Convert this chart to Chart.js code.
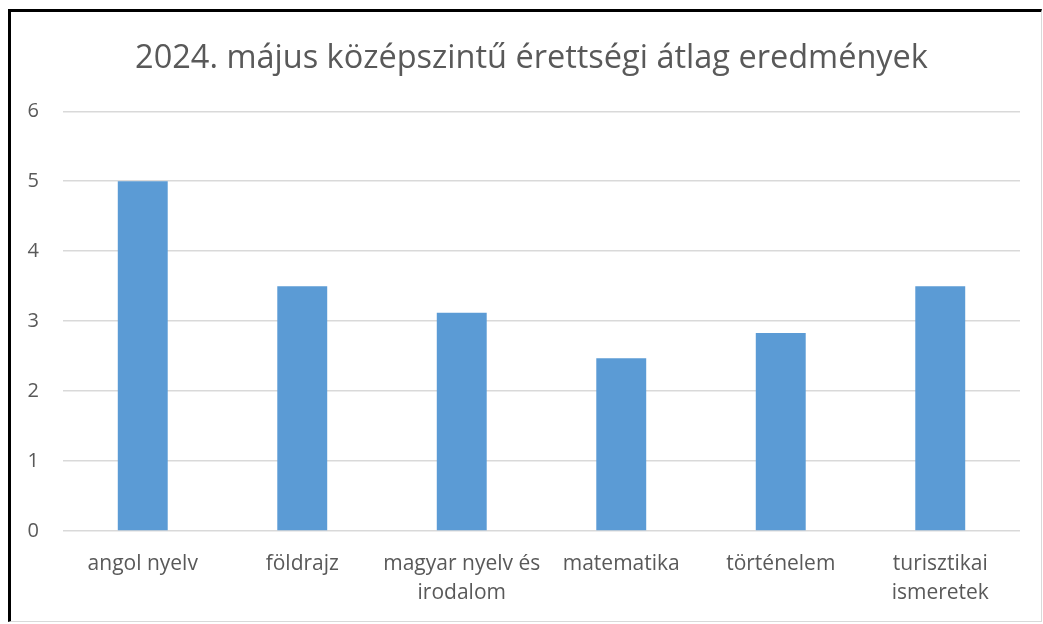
<!DOCTYPE html>
<html>
<head>
<meta charset="utf-8">
<script src="https://cdn.jsdelivr.net/npm/chart.js@4"></script>
<style>
  html, body { margin: 0; padding: 0; background: #fff; }
  #keret {
    position: absolute; left: 8px; top: 9px;
    width: 1030px; height: 609px;
    border-left: 3px solid #000; border-top: 3px solid #000;
    border-right: 1px solid #d9d9d9; border-bottom: 1px solid #d9d9d9;
    background: #fff;
  }
</style>
</head>
<body>
<div id="keret"><canvas id="grafikon" width="1030" height="609"></canvas></div>
<script>
const cimek = [
    'angol nyelv',
    'földrajz',
    ['magyar nyelv és', 'irodalom'],
    'matematika',
    'történelem',
    ['turisztikai', 'ismeretek']
];
const atlagok = [5.0, 3.5, 3.12, 2.47, 2.83, 3.5];
const yTickek = [0, 1, 2, 3, 4, 5, 6];

const betu = "'Open Sans', sans-serif";
const szurke = '#595959';

const ctx = document.getElementById('grafikon').getContext('2d');
new Chart(ctx, {
    type: 'bar',
    data: {
        labels: cimek,
        datasets: [{
            data: atlagok,
            backgroundColor: '#5b9bd5',
            borderWidth: 0,
            categoryPercentage: 1,
            barPercentage: 0.313
        }]
    },
    options: {
        responsive: false,
        animation: false,
        layout: { padding: { left: 11, right: 0, top: 0, bottom: 0 } },
        plugins: {
            legend: { display: false },
            tooltip: { enabled: false },
            title: {
                display: true,
                text: '2024. május középszintű érettségi átlag eredmények',
                color: szurke,
                font: { family: betu, size: 32.5, weight: 'normal', lineHeight: 1.3 },
                padding: { top: 26, bottom: 31 }
            }
        },
        scales: {
            x: {
                grid: { display: false, drawTicks: false },
                border: { display: false },
                ticks: {
                    color: szurke,
                    padding: 18,
                    maxRotation: 0,
                    autoSkip: false,
                    font: { family: betu, size: 21, lineHeight: 1.4 }
                },
                afterFit: s => { s.height = 90; }
            },
            y: {
                min: 0,
                max: 6,
                afterBuildTicks: s => { s.ticks = yTickek.map(v => ({ value: v })); },
                grid: { color: '#d9d9d9', lineWidth: 1.5, drawTicks: false },
                border: { display: false },
                ticks: {
                    color: szurke,
                    padding: 24,
                    font: { family: betu, size: 20 }
                },
                afterFit: s => { s.width = 41; }
            },
            // üres jobb oldali tengely, csak helyet foglal (a cím így kerül középre)
            jobb: {
                type: 'linear',
                position: 'right',
                min: 0,
                max: 6,
                grid: { display: false, drawTicks: false },
                border: { display: false },
                ticks: { display: false },
                afterFit: s => { s.width = 21; }
            }
        }
    }
});
</script>
</body>
</html>
